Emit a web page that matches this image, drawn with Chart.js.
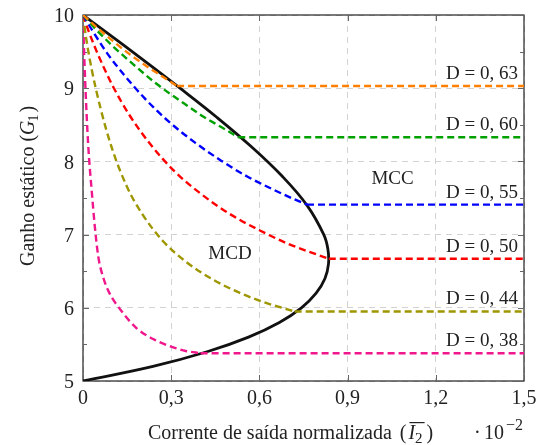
<!DOCTYPE html>
<html>
<head>
<meta charset="utf-8">
<script src="https://cdn.jsdelivr.net/npm/chart.js@4.4.0/dist/chart.umd.min.js"></script>
<style>
  html, body { margin: 0; padding: 0; background: #fff; }
  #wrap { width: 548px; height: 445px; }
</style>
</head>
<body>
<div id="wrap"><canvas id="gainChart" width="548" height="445"></canvas></div>
<script>
// axis ticks
const xTickValues = [0, 0.3, 0.6, 0.9, 1.2, 1.5];
const yTickValues = [5, 6, 7, 8, 9, 10];

// duty cycles, their CCM gain and line colours
const dutyLabels = ['D = 0, 63', 'D = 0, 60', 'D = 0, 55', 'D = 0, 50', 'D = 0, 44', 'D = 0, 38'];
const ccmGain = [9.03, 8.33, 7.41, 6.67, 5.95, 5.38];
const dutyColors = ['#ff8000', '#00a000', '#0000ff', '#ff0000', '#9e9600', '#f0168c'];

// DCM curves (current x10^-2, gain), one pair per duty cycle
const dcmI063 = [0, 0.05, 0.10, 0.16, 0.22, 0.27, 0.32];
const dcmG063 = [10, 9.82, 9.65, 9.46, 9.29, 9.16, 9.03];
const dcmI060 = [0, 0.04, 0.10, 0.17, 0.25, 0.33, 0.41, 0.47, 0.528];
const dcmG060 = [10, 9.82, 9.58, 9.33, 9.06, 8.83, 8.61, 8.47, 8.33];
const dcmI055 = [0, 0.03, 0.08, 0.14, 0.21, 0.29, 0.38, 0.47, 0.56, 0.65, 0.72, 0.762];
const dcmG055 = [10, 9.80, 9.49, 9.18, 8.86, 8.55, 8.26, 8.01, 7.79, 7.61, 7.48, 7.41];
const dcmI050 = [0, 0.02, 0.05, 0.10, 0.16, 0.23, 0.31, 0.40, 0.50, 0.60, 0.70, 0.78, 0.836];
const dcmG050 = [10, 9.77, 9.47, 9.04, 8.62, 8.23, 7.87, 7.56, 7.28, 7.06, 6.87, 6.75, 6.67];
const dcmI044 = [0, 0.01, 0.03, 0.06, 0.10, 0.15, 0.20, 0.27, 0.35, 0.44, 0.53, 0.62, 0.72];
const dcmG044 = [10, 9.70, 9.25, 8.72, 8.16, 7.65, 7.29, 6.92, 6.63, 6.39, 6.21, 6.07, 5.95];
const dcmI038 = [0, 0.005, 0.01, 0.015, 0.02, 0.03, 0.04, 0.052, 0.07, 0.09, 0.13, 0.18, 0.24, 0.30, 0.35, 0.40];
const dcmG038 = [10, 9.35, 8.85, 8.42, 8.08, 7.58, 7.12, 6.70, 6.40, 6.20, 5.96, 5.73, 5.57, 5.47, 5.41, 5.38];

// DCM / CCM boundary
const boundaryI = [0, 0.238, 0.422, 0.563, 0.668, 0.743, 0.793, 0.823, 0.835, 0.833, 0.819, 0.762, 0.677, 0.573, 0.456, 0.330, 0.200, 0.067, 0];
const boundaryG = [5, 5.2, 5.4, 5.6, 5.8, 6.0, 6.2, 6.4, 6.6, 6.8, 7.0, 7.4, 7.8, 8.2, 8.6, 9.0, 9.4, 9.8, 10];

const dcmI = [dcmI063, dcmI060, dcmI055, dcmI050, dcmI044, dcmI038];
const dcmG = [dcmG063, dcmG060, dcmG055, dcmG050, dcmG044, dcmG038];

const FONT = '"Liberation Serif", "Times New Roman", serif';
const DASH = [7, 4];
const toPoints = (xs, ys) => xs.map((x, i) => ({ x, y: ys[i] }));

const datasets = [];
dutyLabels.forEach((label, k) => {
  const xs = dcmI[k];
  // DCM part
  datasets.push({
    label: label + ' MCD',
    data: toPoints(xs, dcmG[k]),
    borderColor: dutyColors[k],
    borderWidth: 2.4,
    borderDash: DASH,
    pointRadius: 0,
    cubicInterpolationMode: 'monotone',
    fill: false
  });
  // CCM part: flat from the boundary to the end of the axis
  datasets.push({
    label: label + ' MCC',
    data: [{ x: xs[xs.length - 1], y: ccmGain[k] }, { x: xTickValues[xTickValues.length - 1], y: ccmGain[k] }],
    borderColor: dutyColors[k],
    borderWidth: 2.4,
    borderDash: DASH,
    pointRadius: 0,
    tension: 0,
    fill: false
  });
});
datasets.push({
  label: 'fronteira',
  data: toPoints(boundaryI, boundaryG),
  borderColor: '#111',
  borderWidth: 2.8,
  pointRadius: 0,
  tension: 0.4,
  fill: false
});

// frame, inward ticks, annotations and axis titles
const decorations = {
  id: 'decorations',
  beforeDatasetsDraw(chart) {
    const { ctx, chartArea: a } = chart;
    ctx.save();
    ctx.strokeStyle = '#222';
    ctx.lineWidth = 1.2;
    ctx.strokeRect(a.left, a.top, a.right - a.left, a.bottom - a.top);
    ctx.strokeStyle = '#666';
    ctx.lineWidth = 1;
    ctx.beginPath();
    const xs = chart.scales.x, ys = chart.scales.y;
    xTickValues.forEach(v => {
      const p = Math.round(xs.getPixelForValue(v)) + 0.5;
      ctx.moveTo(p, a.bottom); ctx.lineTo(p, a.bottom - 6);
      ctx.moveTo(p, a.top); ctx.lineTo(p, a.top + 6);
    });
    for (let v = yTickValues[0]; v <= yTickValues[yTickValues.length - 1]; v += 0.5) {
      const p = Math.round(ys.getPixelForValue(v)) + 0.5;
      const len = Number.isInteger(v) ? 6 : 4;
      ctx.moveTo(a.left, p); ctx.lineTo(a.left + len, p);
      ctx.moveTo(a.right, p); ctx.lineTo(a.right - len, p);
    }
    ctx.stroke();
    ctx.restore();
  },
  afterDraw(chart) {
    const { ctx } = chart;
    const xs = chart.scales.x, ys = chart.scales.y;
    ctx.save();
    ctx.fillStyle = '#222';

    // duty cycle labels above each CCM line
    ctx.font = '19px ' + FONT;
    ctx.textAlign = 'right';
    ctx.textBaseline = 'alphabetic';
    dutyLabels.forEach((label, k) => {
      ctx.fillText(label, xs.getPixelForValue(1.5) - 6, ys.getPixelForValue(ccmGain[k]) - 7);
    });

    // operating regions
    ctx.textAlign = 'center';
    ctx.textBaseline = 'middle';
    ctx.fillText('MCD', xs.getPixelForValue(0.50), ys.getPixelForValue(6.73));
    ctx.fillText('MCC', xs.getPixelForValue(1.053), ys.getPixelForValue(7.76));

    // x title: Corrente de saída normalizada (Ī2)
    ctx.textAlign = 'left';
    ctx.textBaseline = 'alphabetic';
    let x = 148;
    const yb = 439;
    const part1 = 'Corrente de saída normalizada';
    ctx.font = '20px ' + FONT;
    ctx.fillText(part1, x, yb);
    x += ctx.measureText(part1 + ' ').width + 3;
    ctx.fillText('(', x, yb);
    x += ctx.measureText('(').width + 2;
    ctx.font = 'italic 20px ' + FONT;
    const iw = ctx.measureText('I').width;
    ctx.fillText('I', x, yb);
    ctx.font = '15px ' + FONT;
    const sw = ctx.measureText('2').width;
    ctx.fillText('2', x + iw, yb + 4);
    ctx.fillRect(x + 1, yb - 17, iw + sw + 1, 1.2);
    x += iw + sw + 4;
    ctx.font = '20px ' + FONT;
    ctx.fillText(')', x, yb);

    // axis multiplier
    ctx.fillText('·', 474, yb);
    ctx.fillText('10', 484, yb);
    ctx.font = '16px ' + FONT;
    ctx.fillText('−2', 506, yb - 9);

    // y title: Ganho estático (G1)
    ctx.translate(34, 266);
    ctx.rotate(-Math.PI / 2);
    let t = 0;
    const ypart = 'Ganho estático (';
    ctx.font = '20px ' + FONT;
    ctx.fillText(ypart, t, 0);
    t += ctx.measureText(ypart).width;
    ctx.font = 'italic 20px ' + FONT;
    ctx.fillText('G', t, 0);
    t += ctx.measureText('G').width;
    ctx.font = '14px ' + FONT;
    ctx.fillText('1', t - 1, 4);
    t += ctx.measureText('1').width + 1;
    ctx.font = '20px ' + FONT;
    ctx.fillText(')', t, 0);
    ctx.restore();
  }
};

new Chart(document.getElementById('gainChart'), {
  type: 'line',
  data: { datasets },
  options: {
    responsive: false,
    animation: false,
    layout: { padding: { left: 0, top: 15, right: 24, bottom: 0 } },
    plugins: {
      legend: { display: false },
      tooltip: { enabled: false }
    },
    scales: {
      x: {
        type: 'linear',
        min: 0,
        max: 1.5,
        afterBuildTicks: s => { s.ticks = xTickValues.map(v => ({ value: v })); },
        afterFit: s => { s.height = 64; s.paddingLeft = 0; s.paddingRight = 0; },
        grid: { color: '#d2d2d2', lineWidth: 1, drawTicks: false },
        border: { display: false, dash: [6, 5] },
        ticks: {
          color: '#222',
          padding: 6,
          font: { family: FONT, size: 20 },
          callback: v => v === 0 ? '0' : v.toFixed(1).replace('.', ',')
        }
      },
      y: {
        type: 'linear',
        min: 5,
        max: 10,
        afterBuildTicks: s => { s.ticks = yTickValues.map(v => ({ value: v })); },
        afterFit: s => { s.width = 83; s.paddingTop = 0; s.paddingBottom = 0; },
        grid: { color: '#d2d2d2', lineWidth: 1, drawTicks: false },
        border: { display: false, dash: [6, 5] },
        ticks: {
          color: '#222',
          padding: 9,
          labelOffset: 2,
          font: { family: FONT, size: 20 },
          callback: v => String(v)
        }
      }
    }
  },
  plugins: [decorations]
});
</script>
</body>
</html>
